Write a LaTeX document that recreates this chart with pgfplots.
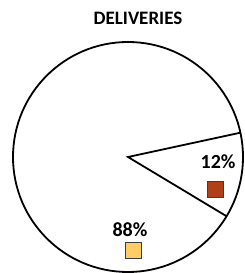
\documentclass[border=0pt]{standalone}
\usepackage{pgfplots}
\pgfplotsset{compat=1.18}
\usepackage{fontspec}
\setmainfont{Carlito}
\definecolor{sliceA}{RGB}{176,64,24}
\definecolor{sliceB}{RGB}{255,204,102}
\definecolor{edge}{RGB}{60,60,60}
\begin{document}
\begin{tikzpicture}[x=1pt,y=1pt]
\useasboundingbox (0,0) rectangle (245,273);
% values: 12 and 88 ; boundary at 12.2 deg
\def\bstart{12.2}
\pgfmathsetmacro{\bend}{\bstart-0.12*360}
\begin{axis}[at={(128pt,116pt)},anchor=origin,
  x=115pt, y=115pt,
  xmin=-1,xmax=1,ymin=-1,ymax=1, hide axis, clip=false]
  \draw[line width=1.8pt, fill=white] (axis cs:0,0) circle[radius=1];
  \draw[line width=1.8pt] (axis cs:{cos(\bstart)},{sin(\bstart)}) -- (axis cs:0,0) -- (axis cs:{cos(\bend)},{sin(\bend)});
  \addplot[only marks, mark=square*, mark size=8pt, mark options={fill=sliceA, draw=edge, line width=0.8pt}] coordinates {(0.757,-0.278)};
  \addplot[only marks, mark=square*, mark size=8pt, mark options={fill=sliceB, draw=edge, line width=0.8pt}] coordinates {(0.043,-0.809)};
  \node[font=\bfseries\fontsize{20}{22}\selectfont] at (axis cs:0.783,-0.043) {12\%};
  \node[font=\bfseries\fontsize{20}{22}\selectfont] at (axis cs:0.017,-0.635) {88\%};
\end{axis}
\node[font=\bfseries\fontsize{19}{21}\selectfont] at (138,255) {DELIVERIES};
\end{tikzpicture}
\end{document}
